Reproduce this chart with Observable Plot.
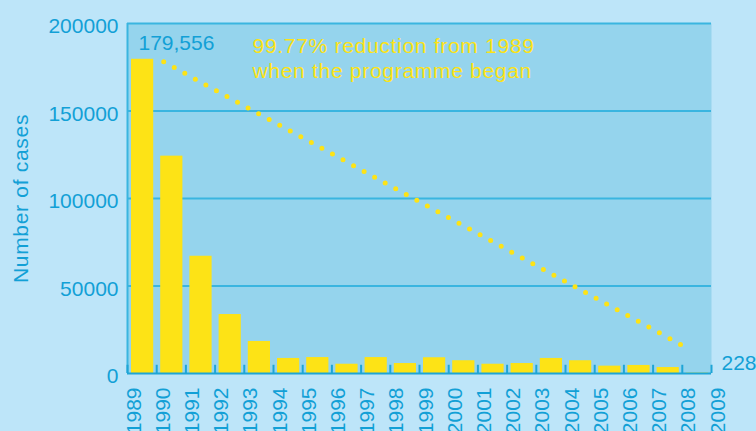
<!DOCTYPE html>
<html>
<head>
<meta charset="utf-8">
<script src="https://cdn.jsdelivr.net/npm/d3@7"></script>
<script src="https://cdn.jsdelivr.net/npm/@observablehq/plot@0.6"></script>
<style>
  html, body { margin: 0; padding: 0; background: #bde5f9; }
  #chart { width: 756px; height: 431px; overflow: hidden; }
</style>
</head>
<body>
<div id="chart"></div>
<script>
// ---- data ----
const years = [1989, 1990, 1991, 1992, 1993, 1994, 1995, 1996, 1997, 1998,
               1999, 2000, 2001, 2002, 2003, 2004, 2005, 2006, 2007, 2008];
const cases = [179556, 124200, 67000, 33700, 18300, 8600, 9100, 5300, 9100, 5700,
               9000, 7300, 5300, 5700, 8600, 7300, 4200, 4600, 3400, 228];
const yTicks = [0, 50000, 100000, 150000, 200000];
const yearTicks = [1989, 1990, 1991, 1992, 1993, 1994, 1995, 1996, 1997, 1998, 1999,
                   2000, 2001, 2002, 2003, 2004, 2005, 2006, 2007, 2008, 2009];
const firstLabel = "179,556";
const lastLabel = "228";
const noteLines = ["99.77% reduction from 1989", "when the programme began"];
const trendYears = [1990.24, 2007.94];
const trendCases = [178100, 16600];
const yLabel = "Number of cases";

const data = years.map((y, i) => ({year: y, cases: cases[i]}));
const trend = trendYears.map((y, i) => ({year: y, cases: trendCases[i]}));

const blue = "#12a0d6", grid = "#3ab5e0", axisBlue = "#1ea5d6", yellow = "#fde316";
const font = "'Liberation Sans', Arial, Helvetica, sans-serif";

const chart = Plot.plot({
  width: 756, height: 431,
  marginTop: 23, marginLeft: 127, marginRight: 45, marginBottom: 58,
  style: {background: "#bde5f9", fontFamily: font, fontSize: "21px", color: blue, overflow: "visible"},
  x: {domain: [1989, 2009], axis: null},
  y: {domain: [0, 200000], axis: null},
  marks: [
    Plot.frame({fill: "#95d4ed", stroke: null}),
    Plot.ruleY(yTicks.slice(1), {stroke: grid, strokeWidth: 2}),
    Plot.ruleX([years[0]], {stroke: grid, strokeWidth: 2}),
    Plot.ruleX(yearTicks, {x: d => d, y1: 0, y2: 4700, stroke: axisBlue, strokeWidth: 2}),
    Plot.rectY(data, {x1: "year", x2: d => d.year + 1, y: "cases", fill: yellow, insetLeft: 4, insetRight: 3}),
    Plot.ruleY([0], {stroke: axisBlue, strokeWidth: 2}),
    Plot.line(trend, {x: "year", y: "cases", stroke: yellow, strokeWidth: 5,
                      strokeDasharray: "0,12.02", strokeLinecap: "round"}),
    // y tick labels
    Plot.text(yTicks, {frameAnchor: "left", y: d => d, text: d => String(d),
                       textAnchor: "end", dx: -9, dy: 3, fill: blue}),
    // x tick labels
    Plot.text(yearTicks, {x: d => d, frameAnchor: "bottom", text: d => String(d),
                          rotate: -90, textAnchor: "end", dx: 13, dy: 14, fill: blue}),
    // y axis title
    Plot.text([yLabel], {frameAnchor: "left", text: d => d, rotate: -90,
                         textAnchor: "middle", dx: -106.5, fill: blue}),
    // annotations
    Plot.text([data[0]], {x: "year", y: "cases", text: () => firstLabel,
                          textAnchor: "start", lineAnchor: "bottom", dx: 11, dy: -9, fill: blue}),
    Plot.text([data[data.length - 1]], {x: d => d.year + 1, y: 0, text: () => lastLabel,
                          textAnchor: "start", lineAnchor: "bottom", dx: 10, dy: -4, fill: blue}),
    Plot.text([noteLines.join("\n")], {frameAnchor: "top-left", text: d => d,
                          textAnchor: "start", lineAnchor: "top", lineHeight: 1.19,
                          dx: 125, dy: 12, fill: yellow})
  ]
});

document.getElementById("chart").appendChild(chart);
d3.select(chart).selectAll("text")
  .filter(function () { return /[a-z]/i.test(this.textContent); })
  .style("letter-spacing", "0.7px");
</script>
</body>
</html>
